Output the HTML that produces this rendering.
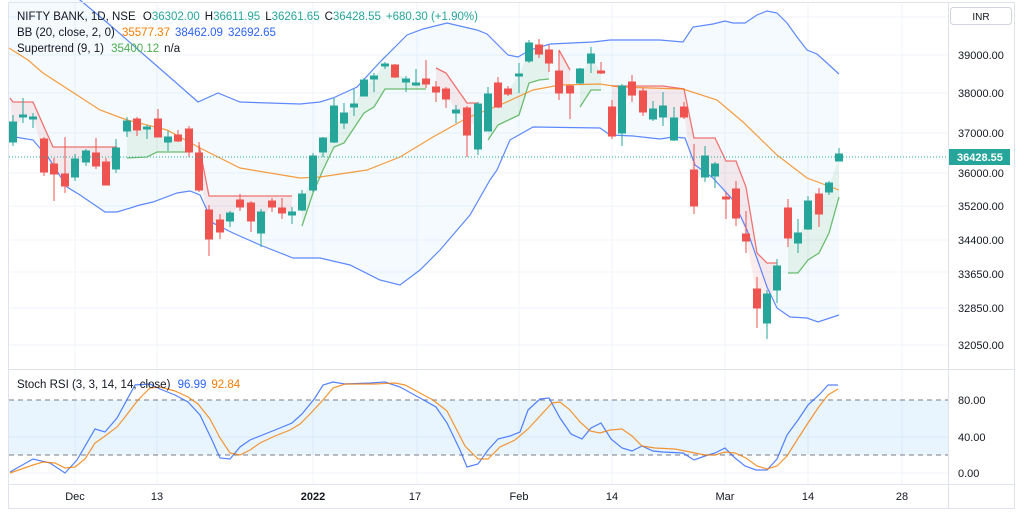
<!DOCTYPE html>
<html><head><meta charset="utf-8"><style>
html,body{margin:0;padding:0;background:#fff;width:1024px;height:515px;overflow:hidden}
svg{display:block;font-family:"Liberation Sans",sans-serif}
</style></head><body>
<svg width="1024" height="515" viewBox="0 0 1024 515" xmlns="http://www.w3.org/2000/svg">
<rect x="0" y="0" width="1024" height="515" fill="#fff"/>
<!-- grid -->
<g stroke="#f0f3fa" stroke-width="1">
<line x1="9" y1="17" x2="948" y2="17"/><line x1="9" y1="55" x2="948" y2="55"/><line x1="9" y1="93" x2="948" y2="93"/><line x1="9" y1="133" x2="948" y2="133"/><line x1="9" y1="173" x2="948" y2="173"/><line x1="9" y1="206" x2="948" y2="206"/><line x1="9" y1="240" x2="948" y2="240"/><line x1="9" y1="272" x2="948" y2="272"/><line x1="9" y1="308" x2="948" y2="308"/><line x1="9" y1="345" x2="948" y2="345"/>
<line x1="9" y1="437" x2="948" y2="437"/><line x1="9" y1="473" x2="948" y2="473"/>
<line x1="75" y1="3" x2="75" y2="484"/><line x1="157" y1="3" x2="157" y2="484"/><line x1="313" y1="3" x2="313" y2="484"/><line x1="417" y1="3" x2="417" y2="484"/><line x1="519" y1="3" x2="519" y2="484"/><line x1="612" y1="3" x2="612" y2="484"/><line x1="725" y1="3" x2="725" y2="484"/><line x1="808" y1="3" x2="808" y2="484"/><line x1="902" y1="3" x2="902" y2="484"/>
</g>
<!-- BB fill -->
<polygon fill="rgba(33,150,243,0.05)" points="9,-40 40,-25 80,0 110,25 150,60 173,80 198,102 218,93 240,102 300,104 320,102 333,98 357,87 380,62 407,35 423,29 447,23 477,30 487,34 508,55 518,57 530,50 550,44 593,42 610,40 660,40 683,42 693,27 713,24 725,21 733,23 745,23 757,15 767,11 777,13 787,23 797,37 807,50 817,54 827,63 839,74 839,315 818,322 807,318 790,317 777,308 767,287 747,230 733,200 713,178 695,165 685,138 673,137 660,139 633,136 610,135 600,128 533,127 510,140 497,170 490,180 470,215 440,250 420,270 400,285 380,280 350,265 320,258 293,258 260,245 233,233 213,223 200,195 190,191 177,193 153,202 140,205 117,212 105,212 80,195 67,187 50,160 33,140 9,136"/>
<!-- supertrend fills -->
<g fill="rgba(239,83,80,0.1)">
<polygon points="10,98 13,102 33,102 53,147 117,147 116,158 106,173 96,160 86,156 75,168 65,180 54,169 44,155 33,118 23,116 13,132"/>
<polygon points="199,145 209,196 292,196 292,213 282,210 272,204 261,222 251,212 240,203 230,217 220,226 209,224 199,171"/>
<polygon points="436,68 446,73 467,103 478,103 478,126 467,121 456,111 446,94 436,89"/>
<polygon points="559,50 570,70 570,89 559,82"/>
<polygon points="612,86 663,86 684,89 694,138 715,138 726,161 736,161 746,187 757,253 767,263 777,263 777,278 767,308 757,298 746,237 736,203 726,198 715,170 705,166 694,188 684,112 674,129 663,111 653,114 643,101 632,88 622,110 612,121"/>
</g>
<g fill="rgba(76,175,80,0.1)">
<polygon points="127,158 147,157 157,152 187,152 178,138 168,140 158,128 147,128 137,124 127,126"/>
<polygon points="302,226 313,193 323,170 334,147 344,143 354,128 364,113 374,107 385,89 426,89 426,81 416,84 406,80 395,71 385,65 374,77 364,88 354,105 344,118 334,124 323,145 313,173 302,202"/>
<polygon points="488,140 498,125 519,115 529,83 539,80 549,79 549,56 539,49 529,52 519,75 508,91 498,95 488,112"/>
<polygon points="580,107 591,90 601,90 601,72 591,58 580,76"/>
<polygon points="788,273 798,273 808,260 819,253 829,233 839,197 839,157 829,187 819,204 808,215 798,238 788,223"/>
</g>
<!-- supertrend lines -->
<g fill="none" stroke-width="1.3" opacity="0.8">
<polyline stroke="#ef5350" points="10,98 13,102 33,102 53,147 117,147"/>
<polyline stroke="#ef5350" points="199,145 209,196 292,196"/>
<polyline stroke="#ef5350" points="436,68 446,73 467,103 478,103"/>
<polyline stroke="#ef5350" points="559,50 570,70"/>
<polyline stroke="#ef5350" points="612,86 663,86 684,89 694,138 715,138 726,161 736,161 746,187 757,253 767,263 777,263"/>
<polyline stroke="#4caf50" points="127,158 147,157 157,152 187,152"/>
<polyline stroke="#4caf50" points="302,226 313,193 323,170 334,147 344,143 354,128 364,113 374,107 385,89 426,89"/>
<polyline stroke="#4caf50" points="488,140 498,125 519,115 529,83 539,80 549,79"/>
<polyline stroke="#4caf50" points="580,107 591,90 601,90"/>
<polyline stroke="#4caf50" points="788,273 798,273 808,260 819,253 829,233 839,197"/>
</g>
<!-- BB lines -->
<polyline fill="none" stroke="#2962ff" stroke-width="1.2" opacity="0.75" points="9,-40 40,-25 80,0 110,25 150,60 173,80 198,102 218,93 240,102 300,104 320,102 333,98 357,87 380,62 407,35 423,29 447,23 477,30 487,34 508,55 518,57 530,50 550,44 593,42 610,40 660,40 683,42 693,27 713,24 725,21 733,23 745,23 757,15 767,11 777,13 787,23 797,37 807,50 817,54 827,63 839,74"/>
<polyline fill="none" stroke="#2962ff" stroke-width="1.2" opacity="0.75" points="9,136 33,140 50,160 67,187 80,195 105,212 117,212 140,205 153,202 177,193 190,191 200,195 213,223 233,233 260,245 293,258 320,258 350,265 380,280 400,285 420,270 440,250 470,215 490,180 497,170 510,140 533,127 600,128 610,135 633,136 660,139 673,137 685,138 695,165 713,178 733,200 747,230 767,287 777,308 790,317 807,318 818,322 839,315"/>
<polyline fill="none" stroke="#f57c00" stroke-width="1.2" opacity="0.75" points="9,48 28,60 43,73 100,110 127,120 167,130 200,148 240,168 300,178 320,177 367,170 400,157 433,137 467,118 500,105 533,90 560,85 600,84 620,87 683,89 717,100 743,122 777,155 807,178 839,190"/>
<!-- candles -->
<g stroke-width="1" id="c">
<g stroke="#26a69a" fill="#26a69a">
<line x1="13" y1="115" x2="13" y2="146"/><rect x="9.5" y="122" width="7" height="20"/>
<line x1="23" y1="98" x2="23" y2="123"/><rect x="19.5" y="115" width="7" height="2"/>
<line x1="33" y1="113" x2="33" y2="128"/><rect x="29.5" y="117" width="7" height="2"/>
<line x1="75" y1="154" x2="75" y2="181"/><rect x="71.5" y="159" width="7" height="18"/>
<line x1="86" y1="149" x2="86" y2="166"/><rect x="82.5" y="151" width="7" height="11"/>
<line x1="116" y1="139" x2="116" y2="173"/><rect x="112.5" y="148" width="7" height="21"/>
<line x1="127" y1="117" x2="127" y2="137"/><rect x="123.5" y="121" width="7" height="10"/>
<line x1="147" y1="125" x2="147" y2="139"/><rect x="143.5" y="127" width="7" height="2"/>
<line x1="168" y1="131" x2="168" y2="151"/><rect x="164.5" y="137" width="7" height="5"/>
<line x1="230" y1="211" x2="230" y2="227"/><rect x="226.5" y="213" width="7" height="8"/>
<line x1="261" y1="209" x2="261" y2="247"/><rect x="257.5" y="212" width="7" height="21"/>
<line x1="292" y1="207" x2="292" y2="224"/><rect x="288.5" y="212" width="7" height="3"/>
<line x1="302" y1="190" x2="302" y2="211"/><rect x="298.5" y="194" width="7" height="16"/>
<line x1="313" y1="153" x2="313" y2="192"/><rect x="309.5" y="156" width="7" height="34"/>
<line x1="323" y1="137" x2="323" y2="157"/><rect x="319.5" y="138" width="7" height="14"/>
<line x1="334" y1="98" x2="334" y2="143"/><rect x="330.5" y="106" width="7" height="36"/>
<line x1="344" y1="103" x2="344" y2="129"/><rect x="340.5" y="113" width="7" height="10"/>
<line x1="354" y1="89" x2="354" y2="116"/><rect x="350.5" y="104" width="7" height="3"/>
<line x1="364" y1="78" x2="364" y2="96"/><rect x="360.5" y="80" width="7" height="16"/>
<line x1="374" y1="73" x2="374" y2="92"/><rect x="370.5" y="76" width="7" height="3"/>
<line x1="385" y1="62" x2="385" y2="69"/><rect x="381.5" y="64" width="7" height="2"/>
<line x1="406" y1="76" x2="406" y2="92"/><rect x="402.5" y="79" width="7" height="3"/>
<line x1="416" y1="69" x2="416" y2="86"/><rect x="412.5" y="83" width="7" height="2"/>
<line x1="456" y1="105" x2="456" y2="123"/><rect x="452.5" y="110" width="7" height="3"/>
<line x1="478" y1="102" x2="478" y2="155"/><rect x="474.5" y="104" width="7" height="45"/>
<line x1="488" y1="87" x2="488" y2="131"/><rect x="484.5" y="94" width="7" height="37"/>
<line x1="519" y1="63" x2="519" y2="93"/><rect x="515.5" y="74" width="7" height="2"/>
<line x1="529" y1="40" x2="529" y2="63"/><rect x="525.5" y="43" width="7" height="18"/>
<line x1="580" y1="68" x2="580" y2="84"/><rect x="576.5" y="69" width="7" height="14"/>
<line x1="591" y1="47" x2="591" y2="73"/><rect x="587.5" y="54" width="7" height="9"/>
<line x1="622" y1="84" x2="622" y2="146"/><rect x="618.5" y="86" width="7" height="47"/>
<line x1="653" y1="101" x2="653" y2="121"/><rect x="649.5" y="109" width="7" height="10"/>
<line x1="663" y1="92" x2="663" y2="126"/><rect x="659.5" y="106" width="7" height="11"/>
<line x1="674" y1="107" x2="674" y2="141"/><rect x="670.5" y="118" width="7" height="22"/>
<line x1="705" y1="146" x2="705" y2="182"/><rect x="701.5" y="156" width="7" height="21"/>
<line x1="715" y1="162" x2="715" y2="188"/><rect x="711.5" y="164" width="7" height="12"/>
<line x1="767" y1="290" x2="767" y2="339"/><rect x="763.5" y="294" width="7" height="29"/>
<line x1="777" y1="259" x2="777" y2="303"/><rect x="773.5" y="266" width="7" height="24"/>
<line x1="798" y1="219" x2="798" y2="253"/><rect x="794.5" y="233" width="7" height="10"/>
<line x1="808" y1="196" x2="808" y2="230"/><rect x="804.5" y="201" width="7" height="28"/>
<line x1="829" y1="181" x2="829" y2="195"/><rect x="825.5" y="183" width="7" height="9"/>
<line x1="839" y1="148" x2="839" y2="161"/><rect x="835.5" y="154" width="7" height="7"/>
</g>
<g stroke="#ef5350" fill="#ef5350">
<line x1="44" y1="137" x2="44" y2="176"/><rect x="40.5" y="139" width="7" height="33"/>
<line x1="54" y1="158" x2="54" y2="201"/><rect x="50.5" y="164" width="7" height="10"/>
<line x1="65" y1="137" x2="65" y2="193"/><rect x="61.5" y="174" width="7" height="12"/>
<line x1="96" y1="138" x2="96" y2="169"/><rect x="92.5" y="153" width="7" height="13"/>
<line x1="106" y1="158" x2="106" y2="185"/><rect x="102.5" y="162" width="7" height="23"/>
<line x1="137" y1="117" x2="137" y2="136"/><rect x="133.5" y="119" width="7" height="11"/>
<line x1="158" y1="109" x2="158" y2="137"/><rect x="154.5" y="119" width="7" height="18"/>
<line x1="178" y1="130" x2="178" y2="142"/><rect x="174.5" y="135" width="7" height="6"/>
<line x1="189" y1="126" x2="189" y2="157"/><rect x="185.5" y="129" width="7" height="23"/>
<line x1="199" y1="142" x2="199" y2="192"/><rect x="195.5" y="153" width="7" height="37"/>
<line x1="209" y1="205" x2="209" y2="256"/><rect x="205.5" y="210" width="7" height="29"/>
<line x1="220" y1="214" x2="220" y2="239"/><rect x="216.5" y="220" width="7" height="12"/>
<line x1="240" y1="194" x2="240" y2="211"/><rect x="236.5" y="200" width="7" height="7"/>
<line x1="251" y1="201" x2="251" y2="232"/><rect x="247.5" y="203" width="7" height="18"/>
<line x1="272" y1="198" x2="272" y2="212"/><rect x="268.5" y="201" width="7" height="6"/>
<line x1="282" y1="198" x2="282" y2="219"/><rect x="278.5" y="208" width="7" height="5"/>
<line x1="395" y1="64" x2="395" y2="78"/><rect x="391.5" y="65" width="7" height="12"/>
<line x1="426" y1="60" x2="426" y2="88"/><rect x="422.5" y="79" width="7" height="5"/>
<line x1="436" y1="81" x2="436" y2="102"/><rect x="432.5" y="87" width="7" height="5"/>
<line x1="446" y1="87" x2="446" y2="108"/><rect x="442.5" y="89" width="7" height="10"/>
<line x1="467" y1="106" x2="467" y2="157"/><rect x="463.5" y="108" width="7" height="27"/>
<line x1="498" y1="77" x2="498" y2="108"/><rect x="494.5" y="83" width="7" height="24"/>
<line x1="508" y1="86" x2="508" y2="96"/><rect x="504.5" y="89" width="7" height="5"/>
<line x1="539" y1="39" x2="539" y2="58"/><rect x="535.5" y="45" width="7" height="9"/>
<line x1="549" y1="45" x2="549" y2="72"/><rect x="545.5" y="50" width="7" height="13"/>
<line x1="559" y1="50" x2="559" y2="100"/><rect x="555.5" y="71" width="7" height="22"/>
<line x1="570" y1="85" x2="570" y2="119"/><rect x="566.5" y="86" width="7" height="7"/>
<line x1="601" y1="62" x2="601" y2="74"/><rect x="597.5" y="71" width="7" height="2"/>
<line x1="612" y1="100" x2="612" y2="139"/><rect x="608.5" y="107" width="7" height="29"/>
<line x1="632" y1="75" x2="632" y2="102"/><rect x="628.5" y="82" width="7" height="13"/>
<line x1="643" y1="88" x2="643" y2="116"/><rect x="639.5" y="91" width="7" height="21"/>
<line x1="684" y1="102" x2="684" y2="119"/><rect x="680.5" y="107" width="7" height="10"/>
<line x1="694" y1="144" x2="694" y2="214"/><rect x="690.5" y="170" width="7" height="36"/>
<line x1="726" y1="192" x2="726" y2="219"/><rect x="722.5" y="197" width="7" height="2"/>
<line x1="736" y1="181" x2="736" y2="226"/><rect x="732.5" y="189" width="7" height="29"/>
<line x1="746" y1="211" x2="746" y2="253"/><rect x="742.5" y="234" width="7" height="7"/>
<line x1="757" y1="277" x2="757" y2="328"/><rect x="753.5" y="289" width="7" height="19"/>
<line x1="788" y1="199" x2="788" y2="247"/><rect x="784.5" y="208" width="7" height="30"/>
<line x1="819" y1="188" x2="819" y2="227"/><rect x="815.5" y="194" width="7" height="20"/>
</g>
</g>
<!-- last price line -->
<line x1="9" y1="157" x2="948" y2="157" stroke="#26a69a" stroke-width="1" stroke-dasharray="1,2"/>
<!-- RSI band -->
<rect x="9" y="400" width="939" height="55" fill="rgba(33,150,243,0.1)"/>
<line x1="9" y1="400" x2="948" y2="400" stroke="#787b86" stroke-dasharray="5,4"/>
<line x1="9" y1="455" x2="948" y2="455" stroke="#787b86" stroke-dasharray="5,4"/>
<polyline fill="none" stroke="#2962ff" stroke-width="1.2" opacity="0.8" points="10,472 33,459 50,463 65,473 77,460 95,429 105,432 117,418 135,385 150,384 160,389 175,395 188,402 200,415 212,440 220,458 230,459 240,447 250,440 265,434 280,428 292,423 302,414 315,398 323,385 333,382 345,384 370,383 385,382 400,387 420,398 436,407 447,423 460,450 467,467 478,464 488,450 498,439 510,436 520,432 528,410 540,399 549,398 560,418 571,434 582,439 591,428 601,423 611,439 622,448 632,451 642,446 653,451 663,452 683,453 694,460 705,456 715,453 725,448 735,458 745,466 756,470 767,470 777,459 787,435 798,420 808,405 820,394 828,385 838,385"/>
<polyline fill="none" stroke="#f57c00" stroke-width="1.2" opacity="0.8" points="10,473 33,465 43,462 55,463 65,468 75,467 85,459 95,443 105,436 117,427 125,417 138,400 150,388 160,387 175,391 188,397 198,404 210,419 220,438 230,453 240,455 250,450 260,443 275,436 290,430 300,424 310,414 323,400 333,388 345,384 375,384 395,383 405,385 420,393 433,400 447,411 465,446 478,459 488,459 500,447 515,440 528,429 540,416 552,403 560,402 570,410 580,422 590,431 600,433 610,430 622,429 632,436 642,446 655,448 675,449 690,452 705,455 715,455 725,452 735,453 746,458 757,466 767,469 777,466 787,456 797,440 808,423 818,408 828,395 838,389"/>
<!-- frame -->
<g stroke="#e0e3eb" stroke-width="1" fill="none">
<rect x="8.5" y="2.5" width="1006" height="506"/>
<line x1="948.5" y1="2" x2="948.5" y2="509"/>
<line x1="8" y1="369.5" x2="1015" y2="369.5"/>
<line x1="8" y1="484.5" x2="1015" y2="484.5"/>
</g>
<!-- price labels -->
<g font-size="11" fill="#131722" text-anchor="start">
<text x="958" y="59">39000.00</text>
<text x="958" y="97">38000.00</text>
<text x="958" y="137">37000.00</text>
<text x="958" y="177">36000.00</text>
<text x="958" y="210">35200.00</text>
<text x="958" y="244">34400.00</text>
<text x="958" y="278">33650.00</text>
<text x="958" y="312">32850.00</text>
<text x="958" y="349">32050.00</text>
<text x="958" y="404">80.00</text>
<text x="958" y="441">40.00</text>
<text x="958" y="477">0.00</text>
</g>
<rect x="949" y="149" width="61" height="16" fill="#26a69a"/>
<text x="957" y="161" font-size="11" font-weight="bold" fill="#fff">36428.55</text>
<rect x="950.5" y="7.5" width="61" height="17" rx="3" fill="#fff" stroke="#d1d4dc"/>
<text x="981" y="20" font-size="10" fill="#131722" text-anchor="middle">INR</text>
<!-- time labels -->
<g font-size="11" fill="#131722" text-anchor="middle">
<text x="75" y="500">Dec</text>
<text x="157" y="500">13</text>
<text x="313" y="500" font-weight="bold">2022</text>
<text x="415" y="500">17</text>
<text x="519" y="500">Feb</text>
<text x="612" y="500">14</text>
<text x="725" y="500">Mar</text>
<text x="808" y="500">14</text>
<text x="902" y="500">28</text>
</g>
<!-- legends -->
<g font-size="11.5" fill="#131722">
<text x="17" y="20">NIFTY BANK, 1D, NSE <tspan dx="4">O</tspan><tspan fill="#26a69a">36302.00</tspan><tspan dx="5">H</tspan><tspan fill="#26a69a">36611.95</tspan><tspan dx="5">L</tspan><tspan fill="#26a69a">36261.65</tspan><tspan dx="5">C</tspan><tspan fill="#26a69a">36428.55</tspan><tspan dx="5" fill="#26a69a">+680.30 (+1.90%)</tspan></text>
<text x="17" y="36">BB (20, close, 2, 0) <tspan dx="4" fill="#f57c00">35577.37</tspan><tspan dx="5" fill="#2962ff">38462.09</tspan><tspan dx="5" fill="#2962ff">32692.65</tspan></text>
<text x="17" y="52">Supertrend (9, 1) <tspan dx="4" fill="#4caf50">35400.12</tspan><tspan dx="5">n/a</tspan></text>
<text x="17" y="388">Stoch RSI (3, 3, 14, 14, close) <tspan dx="4" fill="#2962ff">96.99</tspan><tspan dx="5" fill="#f57c00">92.84</tspan></text>
</g>
</svg>
</body></html>
